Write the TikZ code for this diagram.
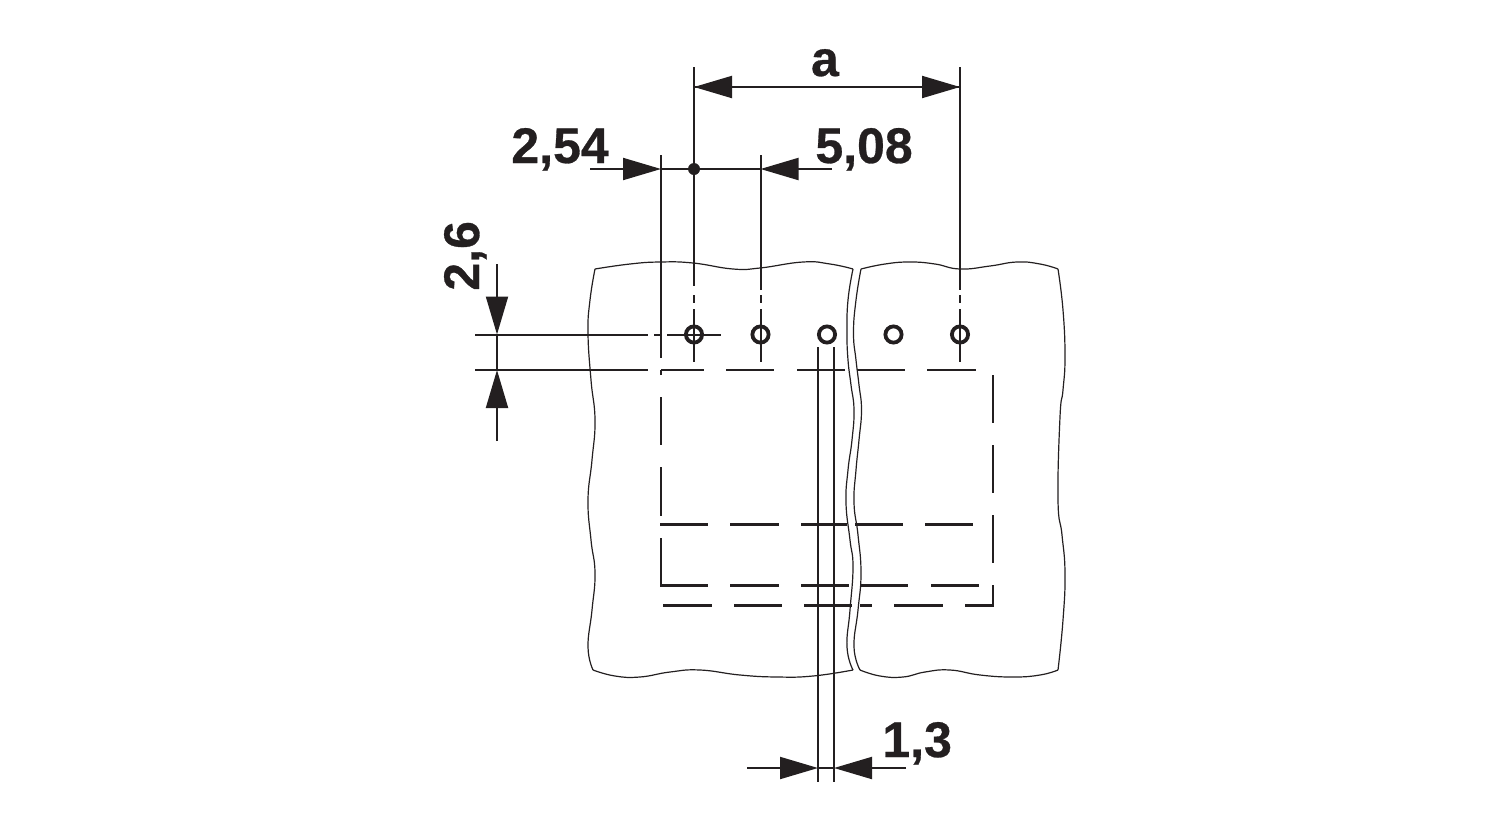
\documentclass[tikz,border=0pt]{standalone}
\usepackage{fontspec}
\setmainfont{Liberation Sans}[BoldFeatures={FakeBold=0.6}]
\usetikzlibrary{arrows.meta}
\definecolor{ink}{RGB}{35,31,32}
\tikzstyle{outline} = [ink, line width=0.6pt]
\tikzstyle{dim} = [ink, line width=1pt]
\tikzstyle{hidden} = [ink, line width=1.3pt]
\tikzstyle{arrow} = [dim, -{Triangle[length=19pt,width=11pt]}]
\tikzstyle{hole} = [circle, draw=ink, line width=1.9pt, minimum size=8.1pt, inner sep=0pt]
\tikzstyle{label} = [font=\fontsize{25}{25}\selectfont\bfseries, text=ink, inner sep=0pt]
\begin{document}
\begin{tikzpicture}[x=0.5pt,y=-0.5pt]
    \useasboundingbox (0,0) rectangle (1500,820);

    % left block
    \draw[outline] plot[smooth,tension=0.8] coordinates {(595,269) (630,264) (660,262) (693,263) (733,269) (760,268) (803,262) (830,264) (853,269)};
    \draw[outline] plot[smooth,tension=0.8] coordinates {(853,269) (848,300) (847,333) (848,360) (851,385) (854,410) (852,440) (848,470) (846,503) (850,540) (853,567) (850,610) (847,647) (853,670)};
    \draw[outline] plot[smooth,tension=0.8] coordinates {(853,670) (813,676) (777,677) (740,675) (700,670) (670,672) (640,677) (615,676) (593,670)};
    \draw[outline] plot[smooth,tension=0.8] coordinates {(593,670) (588,647) (592,610) (595,573) (591,540) (588,500) (592,460) (595,420) (591,380) (588,333) (590,300) (595,269)};

    % right block
    \draw[outline] plot[smooth,tension=0.8] coordinates {(861,269) (885,264) (910,262) (935,264) (960,269) (990,266) (1017,262) (1040,264) (1058,269)};
    \draw[outline] plot[smooth,tension=0.8] coordinates {(1058,269) (1063,310) (1065,357) (1063,390) (1060,417) (1058,500) (1062,535) (1065,573) (1063,620) (1058,670)};
    \draw[outline] plot[smooth,tension=0.8] coordinates {(1058,670) (1040,675) (1013,677) (980,675) (950,670) (925,672) (903,677) (880,676) (860,670)};
    \draw[outline] plot[smooth,tension=0.8] coordinates {(860,670) (854,647) (858,610) (861,573) (858,535) (854,503) (856,470) (859,440) (861.5,410) (859,385) (856,360) (853.5,333) (856,300) (861,269)};

    % holes
    \foreach \name/\x in {holeA/694,holeB/760.5,holeC/827,holeD/893.5,holeE/960}{
        \node[hole] (\name) at (\x,334.5) {};
    }

    % hidden edges
    \foreach \a/\b in {661/704,726/774,797/845,857/905,927/976}{
        \draw[hidden] (\a,370) -- (\b,370);
    }
    \foreach \a/\b in {660/708,730/779,801/847,855/903,925/973}{
        \draw[hidden] (\a,524.5) -- (\b,524.5);
    }
    \foreach \a/\b in {730/779,801/849,861/908,931/979}{
        \draw[hidden] (\a,585.5) -- (\b,585.5);
    }
    \foreach \a/\b in {663/712,734/782,804/852,860/872,894/943}{
        \draw[hidden] (\a,605.5) -- (\b,605.5);
    }
    \foreach \a/\b in {397/445,467/516}{
        \draw[hidden] (661,\a) -- (661,\b);
    }
    \foreach \a/\b in {375/423,445/493,515/563}{
        \draw[hidden] (993,\a) -- (993,\b);
    }
    \draw[hidden] (661,375) -- (661,370);
    \draw[hidden] (661,538) -- (661,585.5) -- (708,585.5);
    \draw[hidden] (993,585) -- (993,605.5) -- (965,605.5);

    % extension lines
    \coordinate (topA) at (694,67);
    \coordinate (topE) at (960,67);
    \coordinate (topL) at (661,155);
    \coordinate (topB) at (760.5,155);
    \draw[dim] (topL) -- (661,358);
    \draw[dim] (topA) -- (694,286) (694,295) -- (694,303) (694,309) -- (694,362);
    \draw[dim] (topB) -- (760.5,290) (760.5,295) -- (760.5,303) (760.5,309) -- (760.5,362);
    \draw[dim] (topE) -- (960,290) (960,295) -- (960,303) (960,309) -- (960,362);
    \draw[dim] (475,334.5) -- (648,334.5) (654,334.5) -- (662,334.5) (667,334.5) -- (721,334.5);
    \draw[dim] (475,370) -- (648,370);
    \draw[dim] (818,347) -- (818,782);
    \draw[dim] (834,347) -- (834,782);

    % dimensions
    \coordinate (aL) at (694,87);
    \coordinate (aR) at (960,87);
    \draw[arrow] (aR) -- (aL);
    \draw[arrow] (aL) -- (aR);

    \coordinate (pitchL) at (661,169);
    \coordinate (pitchR) at (760.5,169);
    \draw[arrow] (590,169) -- (pitchL);
    \draw[arrow] (832,169) -- (pitchR);
    \draw[dim] (pitchL) -- (pitchR);
    \fill[ink] (694,169) circle (3pt);

    \coordinate (rowA) at (497,334.5);
    \coordinate (rowB) at (497,370);
    \draw[arrow] (497,264) -- (rowA);
    \draw[arrow] (497,441) -- (rowB);
    \draw[dim] (rowA) -- (rowB);

    \coordinate (pinL) at (818,768);
    \coordinate (pinR) at (834,768);
    \draw[arrow] (747,768) -- (pinL);
    \draw[arrow] (906,768) -- (pinR);
    \draw[dim] (pinL) -- (pinR);

    % labels
    \node[label, anchor=base] (a) at (825,76) {a};
    \node[label, anchor=base west] (lblpitch) at (511,163) {2,54};
    \node[label, anchor=base west] (lblspan) at (815,163) {5,08};
    \node[label, anchor=base west, rotate=90] (lblrow) at (479,291) {2,6};
    \node[label, anchor=base west] (lblpin) at (882,757) {1,3};
\end{tikzpicture}
\end{document}
